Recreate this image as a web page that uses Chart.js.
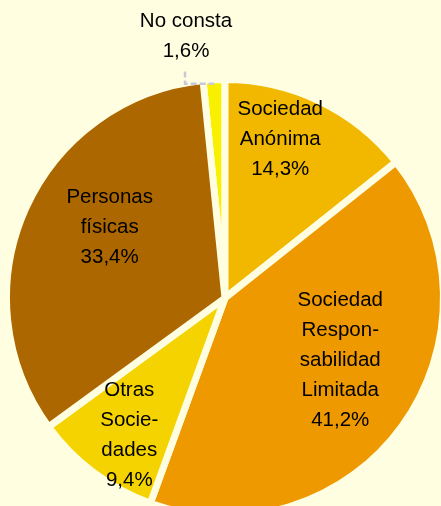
<!DOCTYPE html>
<html>
<head>
<meta charset="utf-8">
<script src="https://cdn.jsdelivr.net/npm/chart.js@4/dist/chart.umd.min.js"></script>
<style>
  html, body { margin: 0; padding: 0; background: #fffee1; overflow: hidden; width: 441px; height: 506px; }
  #wrap { position: absolute; left: 0; top: 0; }
</style>
</head>
<body>
<div id="wrap"><canvas id="myChart" width="450" height="596"></canvas></div>
<script>
// data
var categorias = [
  ["No consta"],
  ["Sociedad", "Anónima"],
  ["Sociedad", "Respon-", "sabilidad", "Limitada"],
  ["Otras", "Socie-", "dades"],
  ["Personas", "físicas"]
];
var porcentajes = [1.6, 14.3, 41.2, 9.4, 33.4];
var colores = ["#f9f000", "#f2b800", "#ee9900", "#f5d300", "#ac6700"];

// where each label sits: fraction of radius, angle shift in degrees
var posEtiquetas = [
  [1.21, -5.6],
  [0.77, -6.6],
  [0.60, -7.3],
  [0.765, -2.0],
  [0.62, 7.6]
];

var fondo = "#fffee1";
var total = porcentajes.reduce(function (a, b) { return a + b; }, 0);

var etiquetasPlugin = {
  id: "etiquetas",
  afterDatasetsDraw: function (chart) {
    var ctx = chart.ctx;
    var meta = chart.getDatasetMeta(0);
    ctx.save();
    ctx.font = "20.5px 'Liberation Sans', Arial, sans-serif";
    ctx.fillStyle = "#000";
    ctx.textAlign = "center";
    ctx.textBaseline = "middle";
    var lineH = 30;
    meta.data.forEach(function (arc, i) {
      var p = arc.getProps(["x", "y", "startAngle", "endAngle", "outerRadius"], true);
      var mid = (p.startAngle + p.endAngle) / 2;
      var a = mid + posEtiquetas[i][1] * Math.PI / 180;
      var r = posEtiquetas[i][0] * p.outerRadius;
      var lx = p.x + r * Math.cos(a);
      var ly = p.y + r * Math.sin(a);
      var lines = categorias[i].concat([porcentajes[i].toFixed(1).replace(".", ",") + "%"]);
      var y0 = ly - (lines.length - 1) * lineH / 2;
      lines.forEach(function (t, k) {
        ctx.fillText(t, lx, y0 + k * lineH);
      });
      if (i === 0) {
        // dashed leader line to the small slice
        var ex = p.x + (p.outerRadius - 4) * Math.cos(mid);
        var ey = p.y + (p.outerRadius - 4) * Math.sin(mid);
        var sy = y0 + (lines.length - 1) * lineH + 20;
        ctx.strokeStyle = "#c8c9d6";
        ctx.lineWidth = 2.5;
        ctx.setLineDash([6, 3]);
        ctx.beginPath();
        ctx.moveTo(lx - 1, sy);
        ctx.lineTo(lx - 1, ey);
        ctx.lineTo(ex, ey);
        ctx.stroke();
      }
    });
    ctx.restore();
  }
};

var ctx = document.getElementById("myChart").getContext("2d");
var myChart = new Chart(ctx, {
  type: "pie",
  data: {
    labels: categorias,
    datasets: [
      {
        data: porcentajes,
        backgroundColor: colores,
        borderColor: fondo,
        borderWidth: 7,
      },
    ],
  },
  options: {
    responsive: false,
    animation: false,
    rotation: -(porcentajes[0] / total) * 360,
    radius: 218.5,
    layout: { padding: 0 },
    plugins: {
      legend: { display: false },
      tooltip: { enabled: false },
    },
  },
  plugins: [etiquetasPlugin],
});
</script>
</body>
</html>
